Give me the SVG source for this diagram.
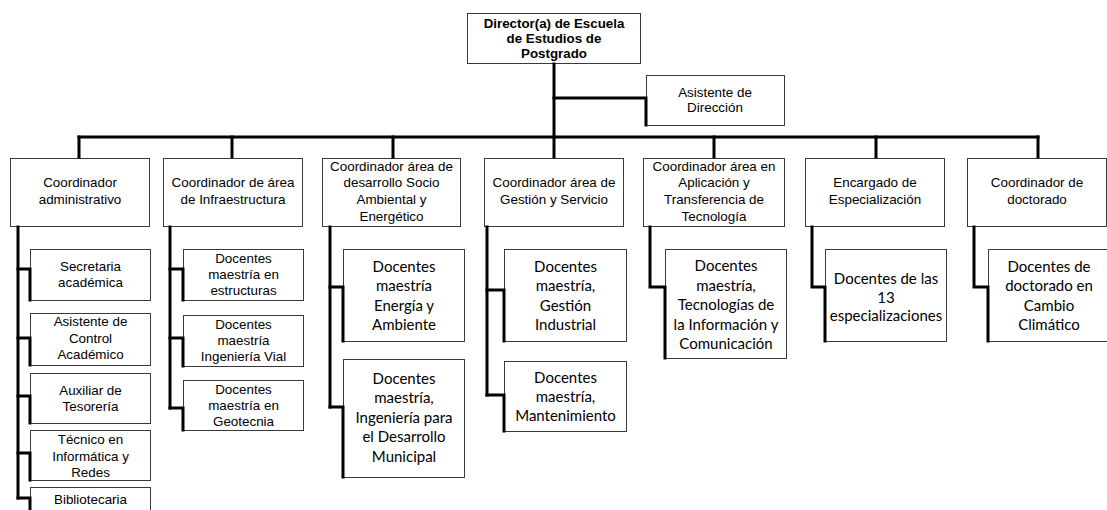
<svg xmlns="http://www.w3.org/2000/svg" width="1107" height="510" viewBox="0 0 1107 510">
  <style>
    .box { fill: #ffffff; stroke: #3a3a3a; stroke-width: 1; }
    .conn { fill: none; stroke: #000000; stroke-width: 3; stroke-linejoin: miter; stroke-linecap: square; }
    .a { font-family: "Liberation Sans", Arial, sans-serif; font-size: 13.4px; fill: #000; text-anchor: middle; }
    .ab { font-family: "Liberation Sans", Arial, sans-serif; font-size: 13.33px; font-weight: bold; fill: #000; text-anchor: middle; }
    .c { font-family: Lato, "Noto Sans", sans-serif; font-size: 15px; fill: #000; text-anchor: middle; }
  </style>
  <rect width="1107" height="510" fill="#ffffff"/>

  <!-- Top management -->
  <g id="director">
    <rect class="box" x="467.5" y="13.5" width="173" height="50"/>
    <text class="ab" x="554" y="28">Director(a) de Escuela</text>
    <text class="ab" x="554" y="43">de Estudios de</text>
    <text class="ab" x="554" y="57.5">Postgrado</text>
  </g>
  <g id="asistente-direccion">
    <rect class="box" x="646.5" y="75.5" width="138" height="50"/>
    <text class="a" x="715" y="96.5">Asistente de</text>
    <text class="a" x="715" y="111.5">Dirección</text>
  </g>

  <!-- Coordinators -->
  <g id="coord-administrativo">
    <rect class="box" x="10.5" y="158.5" width="139" height="68"/>
    <text class="a" x="80" y="187">Coordinador</text>
    <text class="a" x="80" y="203.5">administrativo</text>
  </g>
  <g id="coord-infraestructura">
    <rect class="box" x="163.5" y="158.5" width="139" height="68"/>
    <text class="a" x="233" y="187">Coordinador de área</text>
    <text class="a" x="233" y="203.5">de Infraestructura</text>
  </g>
  <g id="coord-socio-ambiental">
    <rect class="box" x="322.5" y="158.5" width="138" height="68"/>
    <text class="a" x="391.5" y="170.5">Coordinador área de</text>
    <text class="a" x="391.5" y="187">desarrollo Socio</text>
    <text class="a" x="391.5" y="203.5">Ambiental y</text>
    <text class="a" x="391.5" y="220.5">Energético</text>
  </g>
  <g id="coord-gestion">
    <rect class="box" x="484.5" y="158.5" width="139" height="68"/>
    <text class="a" x="554" y="187">Coordinador área de</text>
    <text class="a" x="554" y="203.5">Gestión y Servicio</text>
  </g>
  <g id="coord-transferencia">
    <rect class="box" x="643.5" y="158.5" width="141" height="68"/>
    <text class="a" x="714" y="170.5">Coordinador área en</text>
    <text class="a" x="714" y="187">Aplicación y</text>
    <text class="a" x="714" y="203.5">Transferencia de</text>
    <text class="a" x="714" y="220.5">Tecnología</text>
  </g>
  <g id="encargado-especializacion">
    <rect class="box" x="805.5" y="158.5" width="139" height="68"/>
    <text class="a" x="875" y="187">Encargado de</text>
    <text class="a" x="875" y="203.5">Especialización</text>
  </g>
  <g id="coord-doctorado">
    <rect class="box" x="967.5" y="158.5" width="139" height="68"/>
    <text class="a" x="1037" y="187">Coordinador de</text>
    <text class="a" x="1037" y="203.5">doctorado</text>
  </g>

  <!-- Administrative staff -->
  <g id="secretaria">
    <rect class="box" x="30.5" y="249.5" width="120" height="51"/>
    <text class="a" x="90.5" y="270.5">Secretaria</text>
    <text class="a" x="90.5" y="286.5">académica</text>
  </g>
  <g id="asistente-control">
    <rect class="box" x="30.5" y="313.5" width="120" height="52"/>
    <text class="a" x="90.5" y="326">Asistente de</text>
    <text class="a" x="90.5" y="342.5">Control</text>
    <text class="a" x="90.5" y="359">Académico</text>
  </g>
  <g id="auxiliar-tesoreria">
    <rect class="box" x="30.5" y="373.5" width="120" height="50"/>
    <text class="a" x="90.5" y="394.5">Auxiliar de</text>
    <text class="a" x="90.5" y="411">Tesorería</text>
  </g>
  <g id="tecnico-informatica">
    <rect class="box" x="30.5" y="430.5" width="120" height="50"/>
    <text class="a" x="90.5" y="444">Técnico en</text>
    <text class="a" x="90.5" y="460.5">Informática y</text>
    <text class="a" x="90.5" y="476.5">Redes</text>
  </g>
  <g id="bibliotecaria">
    <rect class="box" x="30.5" y="487.5" width="120" height="40"/>
    <text class="a" x="90.5" y="504">Bibliotecaria</text>
  </g>

  <!-- Infrastructure programmes -->
  <g id="doc-estructuras">
    <rect class="box" x="183.5" y="249.5" width="120" height="51"/>
    <text class="a" x="243.5" y="263">Docentes</text>
    <text class="a" x="243.5" y="279">maestría en</text>
    <text class="a" x="243.5" y="294.5">estructuras</text>
  </g>
  <g id="doc-vial">
    <rect class="box" x="183.5" y="315.5" width="120" height="51"/>
    <text class="a" x="243.5" y="328.5">Docentes</text>
    <text class="a" x="243.5" y="345">maestría</text>
    <text class="a" x="243.5" y="361">Ingeniería Vial</text>
  </g>
  <g id="doc-geotecnia">
    <rect class="box" x="183.5" y="380.5" width="120" height="50"/>
    <text class="a" x="243.5" y="393.5">Docentes</text>
    <text class="a" x="243.5" y="409.5">maestría en</text>
    <text class="a" x="243.5" y="425.5">Geotecnia</text>
  </g>

  <!-- Socio-environmental programmes -->
  <g id="doc-energia">
    <rect class="box" x="343.5" y="249.5" width="121" height="92"/>
    <text class="c" x="404" y="271.5">Docentes</text>
    <text class="c" x="404" y="291">maestría</text>
    <text class="c" x="404" y="310.5">Energía y</text>
    <text class="c" x="404" y="330">Ambiente</text>
  </g>
  <g id="doc-municipal">
    <rect class="box" x="343.5" y="359.5" width="121" height="118"/>
    <text class="c" x="404" y="383.5">Docentes</text>
    <text class="c" x="404" y="403">maestría,</text>
    <text class="c" x="404" y="422.5">Ingeniería para</text>
    <text class="c" x="404" y="442">el Desarrollo</text>
    <text class="c" x="404" y="461.5">Municipal</text>
  </g>

  <!-- Management programmes -->
  <g id="doc-gestion-industrial">
    <rect class="box" x="504.5" y="249.5" width="122" height="92"/>
    <text class="c" x="565.5" y="271.5">Docentes</text>
    <text class="c" x="565.5" y="291">maestría,</text>
    <text class="c" x="565.5" y="310.5">Gestión</text>
    <text class="c" x="565.5" y="330">Industrial</text>
  </g>
  <g id="doc-mantenimiento">
    <rect class="box" x="504.5" y="361.5" width="122" height="70"/>
    <text class="c" x="565.5" y="382.5">Docentes</text>
    <text class="c" x="565.5" y="401.5">maestría,</text>
    <text class="c" x="565.5" y="420.5">Mantenimiento</text>
  </g>

  <!-- Technology transfer programme -->
  <g id="doc-tic">
    <rect class="box" x="665.5" y="249.5" width="121" height="109"/>
    <text class="c" x="726" y="271">Docentes</text>
    <text class="c" x="726" y="290.5">maestría,</text>
    <text class="c" x="726" y="310">Tecnologías de</text>
    <text class="c" x="726" y="329.5">la Información y</text>
    <text class="c" x="726" y="349">Comunicación</text>
  </g>

  <!-- Specialisations -->
  <g id="doc-especializaciones">
    <rect class="box" x="825.5" y="249.5" width="121" height="92"/>
    <text class="c" x="886" y="284">Docentes de las</text>
    <text class="c" x="886" y="302.5">13</text>
    <text class="c" x="886" y="321">especializaciones</text>
  </g>

  <!-- Doctorate -->
  <g id="doc-doctorado">
    <rect class="box" x="988.5" y="249.5" width="122" height="92"/>
    <text class="c" x="1049" y="271.5">Docentes de</text>
    <text class="c" x="1049" y="291">doctorado en</text>
    <text class="c" x="1049" y="310.5">Cambio</text>
    <text class="c" x="1049" y="330">Climático</text>
  </g>

  <!-- Connectors -->
  <g id="connectors" class="conn">
    <path d="M554 64 V137"/>
    <path d="M554 98 H646 V125"/>
    <path d="M79 137 H1038"/>
    <path d="M79 137 V157 M232 137 V157 M393 137 V157 M554 137 V157 M714 137 V157 M876 137 V157 M1038 137 V157"/>
    <!-- administrative column -->
    <path d="M18 227 V498"/>
    <path d="M18 269 H30 V300 M18 338 H30 V365 M18 396 H30 V423 M18 453 H30 V480 M18 498 H30 V510"/>
    <!-- infrastructure column -->
    <path d="M170 227 V408"/>
    <path d="M170 269 H183 V300 M170 338 H183 V366 M170 408 H183 V430"/>
    <!-- socio-environmental column -->
    <path d="M330 227 V407"/>
    <path d="M330 287 H343 V341 M330 407 H343 V477"/>
    <!-- management column -->
    <path d="M487 227 V395"/>
    <path d="M487 290 H504 V341 M487 395 H504 V431"/>
    <!-- remaining columns -->
    <path d="M650 227 V287 H665 V358"/>
    <path d="M812 227 V287 H825 V341"/>
    <path d="M974 227 V287 H988 V341"/>
  </g>
</svg>
